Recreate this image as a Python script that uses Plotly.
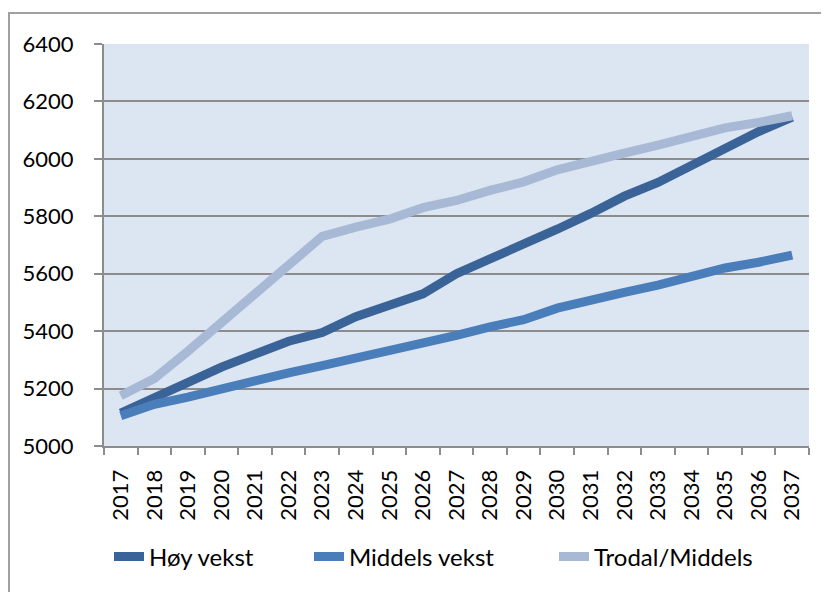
import plotly.graph_objects as go

years = list(range(2017, 2038))
year_labels = [str(y) for y in years]
hoy_vekst = [5115, 5170, 5225, 5275, 5320, 5365, 5395, 5450, 5490, 5530, 5600, 5650,
             5700, 5755, 5810, 5870, 5918, 5978, 6035, 6095, 6145]
middels_vekst = [5105, 5145, 5170, 5200, 5225, 5255, 5280, 5305, 5335, 5360, 5385, 5415,
                 5440, 5480, 5510, 5535, 5560, 5590, 5620, 5640, 5665]
trodal_middels = [5175, 5235, 5330, 5430, 5530, 5625, 5730, 5762, 5790, 5830, 5855, 5890,
                  5920, 5962, 5995, 6020, 6048, 6080, 6108, 6127, 6150]
y_ticks = [5000, 5200, 5400, 5600, 5800, 6000, 6200, 6400]

series = [
    ("Høy vekst", hoy_vekst, "#3A6398", "legend"),
    ("Middels vekst", middels_vekst, "#4A7EBB", "legend2"),
    ("Trodal/Middels", trodal_middels, "#A7B9D5", "legend3"),
]

fig = go.Figure()
for name, vals, col, lg in series:
    fig.add_trace(go.Scatter(x=years, y=vals, mode="lines", name=name, legend=lg,
                             line=dict(color=col, width=9)))

# page body has an 8px margin; figure coordinates = reference - 8
W, H = 821, 584
L, T = 96, 36
R = W - 801
B = H - 438
pw, ph = W - L - R, H - T - B
leg_y = -(549 - (T + ph)) / ph
text_starts = [142, 342, 587]
GRID = "#8C8C8C"


def leg(px):
    return dict(orientation="h", x=(px - 41 - L) / pw, xanchor="left",
                y=leg_y, yanchor="middle", font=dict(size=24),
                bgcolor="rgba(0,0,0,0)", borderwidth=0)


fig.update_layout(
    width=W, height=H,
    margin=dict(l=L, r=R, t=T, b=B, pad=0, autoexpand=False),
    paper_bgcolor="white",
    plot_bgcolor="#DCE6F2",
    font=dict(family="Lato, Carlito, sans-serif", size=22, color="black"),
    showlegend=True,
    legend=leg(text_starts[0]),
    legend2=leg(text_starts[1]),
    legend3=leg(text_starts[2]),
    xaxis=dict(range=[years[0] - 0.5, years[-1] + 0.5], tickmode="array",
               tickvals=years, ticktext=year_labels, tickangle=-90,
               ticks="outside", ticklen=13, tickcolor="rgba(0,0,0,0)",
               minor=dict(ticks="outside", ticklen=7, tickcolor=GRID, tickwidth=1.5,
                          tick0=years[0] - 0.5, dtick=1, showgrid=False),
               showgrid=False, showline=True, linecolor=GRID,
               linewidth=2, tickfont=dict(size=22), zeroline=False, automargin=False),
    yaxis=dict(range=[y_ticks[0], y_ticks[-1]], tickmode="array", tickvals=y_ticks,
               ticks="outside", ticklen=24, tickcolor="rgba(0,0,0,0)",
               minor=dict(ticks="outside", ticklen=8, tickcolor=GRID, tickwidth=1.5,
                          tick0=y_ticks[0] - 0.01, dtick=200, showgrid=False),
               showgrid=True, gridcolor=GRID, gridwidth=2,
               showline=True, linecolor=GRID, linewidth=2,
               tickfont=dict(size=22), zeroline=False, automargin=False),
    shapes=[dict(type="rect", xref="paper", yref="paper",
                 x0=(1 - L) / pw, x1=(W + 20 - L) / pw,
                 y0=-(H + 20 - (T + ph)) / ph, y1=((T + ph) - 5) / ph,
                 line=dict(color="#A0A0A0", width=2), fillcolor="rgba(0,0,0,0)",
                 layer="below")],
)

fig.write_html("out.html")
